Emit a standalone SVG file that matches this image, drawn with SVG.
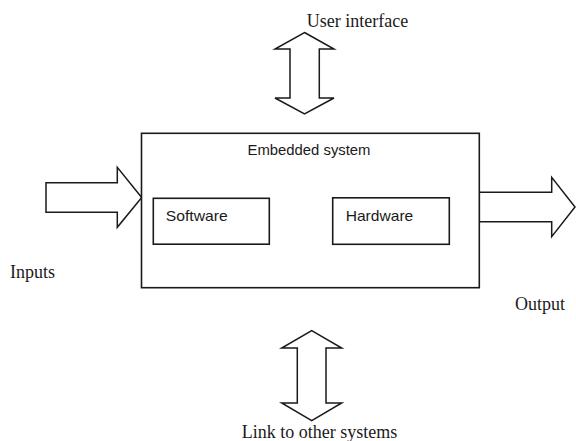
<svg xmlns="http://www.w3.org/2000/svg" width="576" height="441" viewBox="0 0 576 441">
  <style>
    .box { fill: #ffffff; stroke: #1a1a1a; stroke-width: 1.6; }
    .arrow { fill: #ffffff; stroke: #1a1a1a; stroke-width: 1.5; stroke-linejoin: miter; }
    .serif { font-family: "Liberation Serif", "Times New Roman", serif; font-size: 18px; fill: #1a1a1a; }
    .sans { font-family: "Liberation Sans", Arial, sans-serif; font-size: 15px; fill: #1a1a1a; }
  </style>
  <rect width="576" height="441" fill="#ffffff"/>

  <g id="connectors">
    <polygon id="arrow-inputs" class="arrow" points="46,182.7 117.3,182.7 117.3,167.3 141.7,197.5 117.3,227.3 117.3,212.3 46,212.3"/>
    <polygon id="arrow-output" class="arrow" points="479.3,192.3 551.7,192.3 551.7,177.3 575,207 551.7,236.7 551.7,221.7 479.3,221.7"/>
    <polygon id="arrow-ui" class="arrow" points="304.5,32.5 334,49 319.3,49 319.3,98 334,98 304.5,114 275,98 290,98 290,49 275,49"/>
    <polygon id="arrow-link" class="arrow" points="311.7,330.7 341.7,348 326,348 326,403 341.7,403 311.7,420.7 281.7,403 297.3,403 297.3,348 281.7,348"/>
  </g>

  <g id="embedded-system">
    <rect class="box" x="141.5" y="133.3" width="337.8" height="154.4"/>
    <text class="sans" x="309" y="155" text-anchor="middle" textLength="123" lengthAdjust="spacingAndGlyphs">Embedded system</text>
  </g>

  <g id="software">
    <rect class="box" x="153.3" y="198.3" width="116" height="45.9"/>
    <text class="sans" x="165.7" y="221" textLength="62" lengthAdjust="spacingAndGlyphs">Software</text>
  </g>

  <g id="hardware">
    <rect class="box" x="332.7" y="197.8" width="116.6" height="46.5"/>
    <text class="sans" x="345.7" y="221" textLength="67.6" lengthAdjust="spacingAndGlyphs">Hardware</text>
  </g>

  <g id="label-user-interface">
    <text class="serif" x="306.7" y="26.5">User interface</text>
  </g>
  <g id="label-inputs">
    <text class="serif" x="10" y="278.3">Inputs</text>
  </g>
  <g id="label-output">
    <text class="serif" x="515" y="310">Output</text>
  </g>
  <g id="label-link">
    <text class="serif" x="241.7" y="437.5">Link to other systems</text>
  </g>
</svg>
